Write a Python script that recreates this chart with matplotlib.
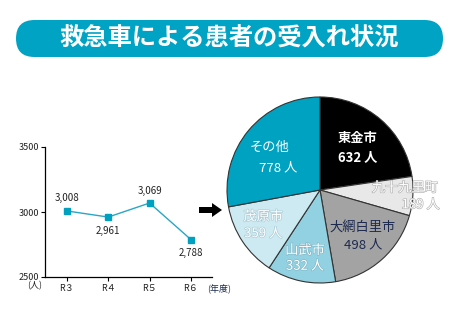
import matplotlib
matplotlib.use("Agg")
import matplotlib.pyplot as plt
from matplotlib.patches import FancyBboxPatch, Polygon
import matplotlib.patheffects as pe

plt.rcParams['font.family'] = ['Noto Sans CJK JP', 'DejaVu Sans']

title = "救急車による患者の受入れ状況"
years = ["R３", "R４", "R５", "R６"]
patients = [3008, 2961, 3069, 2788]
yticks = [2500, 3000, 3500]

areas = ["東金市", "九十九里町", "大網白里市", "山武市", "茂原市", "その他"]
area_counts = [632, 189, 498, 332, 359, 778]
area_colors = ["#000000", "#e8e8e8", "#a3a3a3", "#92d1e2", "#cde9f2", "#00a2c2"]

W, H = 453, 326
fig = plt.figure(figsize=(W/100, H/100), dpi=100)

# background / decoration axes in pixel coords
bg = fig.add_axes([0, 0, 1, 1])
bg.set_xlim(0, W)
bg.set_ylim(H, 0)
bg.axis('off')
box = FancyBboxPatch((16, 20), 427, 37, boxstyle="round,pad=0,rounding_size=18.5",
                     facecolor="#00a3c4", edgecolor="none", mutation_aspect=1)
bg.add_patch(box)
bg.text(229, 38.5, title, color="white", fontsize=17.5, fontweight="bold",
        ha="center", va="center")
arrow = Polygon([(199, 207), (212, 207), (212, 203), (222, 210), (212, 217),
                 (212, 213), (199, 213)], closed=True, facecolor="black", edgecolor="none")
bg.add_patch(arrow)
bg.text(35, 286, "(人)", fontsize=6.5, ha="center", va="center", color="#222222")
bg.text(219, 288, "(年度)", fontsize=6.5, ha="center", va="center", color="#1c2a50")

# line chart
ax = fig.add_axes([45/W, (H-277)/H, (212-45)/W, (277-147)/H])
ax.set_facecolor('none')
x = list(range(len(years)))
ax.plot(x, patients, color="#2aa6c4", lw=1.0, marker="s", markersize=5,
        markerfacecolor="#00a0c0", markeredgecolor="#00a0c0")
offs = [9, -10, 9, -10]
for xi, v, o in zip(x, patients, offs):
    ax.annotate(f"{v:,}", (xi, v), xytext=(0, o), textcoords="offset points",
                ha="center", va="center", fontsize=7, color="#222222")
ax.set_xlim(-0.53, 3.51)
ax.set_ylim(2500, 3500)
ax.set_yticks(yticks)
ax.set_yticklabels([str(t) for t in yticks], fontsize=6.5, color="#222222")
ax.set_xticks(x)
ax.set_xticklabels(years, fontsize=6.5, color="#222222")
ax.tick_params(axis='y', length=3, width=0.8, pad=1)
ax.tick_params(axis='x', length=3, width=0.8, pad=2)
for s in ["top", "right"]:
    ax.spines[s].set_visible(False)
for s in ["left", "bottom"]:
    ax.spines[s].set_linewidth(0.9)

# pie chart
r = 93
pax = fig.add_axes([(320-r)/W, (H-190-r)/H, 2*r/W, 2*r/H])
pax.set_facecolor('none')
pax.pie(area_counts, colors=area_colors, startangle=90, counterclock=False,
        wedgeprops=dict(edgecolor="#333333", linewidth=0.8))
pax.set_xlim(-1, 1)
pax.set_ylim(-1, 1)
pax.set_aspect('equal')

def lab(xy, s, color, ha='center', fw='normal', outline=None):
    t = pax.text(xy[0], xy[1], s, color=color, fontsize=9.5, ha=ha,
                 va="center", fontweight=fw, clip_on=False)
    if outline:
        t.set_path_effects([pe.withStroke(linewidth=0.9, foreground=outline)])

lab((0.40, 0.56), areas[0], "white", fw="bold")
lab((0.40, 0.35), f"{area_counts[0]} 人", "white", fw="bold")
lab((1.27, 0.02), areas[1], "white", ha="right", outline="#b0b0b0")
lab((1.29, -0.16), f"{area_counts[1]} 人", "white", ha="right", outline="#b0b0b0")
lab((0.46, -0.40), areas[2], "#1c2a50")
lab((0.46, -0.59), f"{area_counts[2]} 人", "#1c2a50")
lab((-0.16, -0.65), areas[3], "white", outline="#7fb5c5")
lab((-0.16, -0.82), f"{area_counts[3]} 人", "white", outline="#7fb5c5")
lab((-0.61, -0.29), areas[4], "white", outline="#a9c9d3")
lab((-0.61, -0.47), f"{area_counts[4]} 人", "white", outline="#a9c9d3")
lab((-0.54, 0.46), areas[5], "white")
lab((-0.45, 0.24), f"{area_counts[5]} 人", "white")

fig.savefig("out.png", dpi=100)
